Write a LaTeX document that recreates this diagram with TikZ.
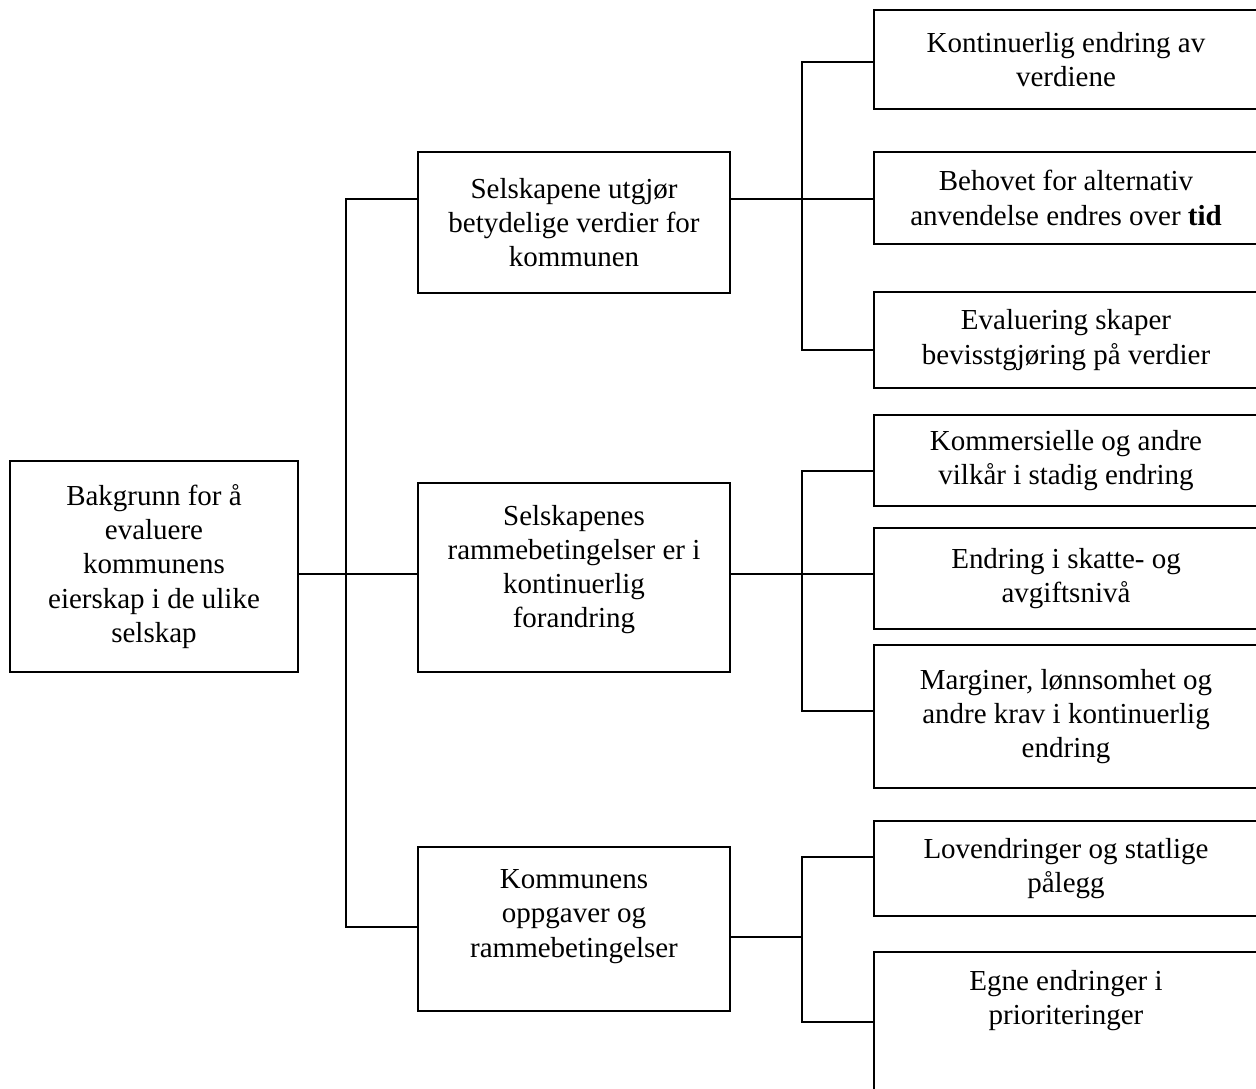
\documentclass[tikz,border=0pt]{standalone}
\usepackage{fontspec}
\setmainfont{Liberation Serif}
\newcommand{\liftup}[2]{\raisebox{#1}[\height][\depth]{%
  \begin{tabular}{@{}c@{}}#2\end{tabular}}}

\begin{document}
\begin{tikzpicture}[x=0.02cm,y=-0.02cm
  ,line width=1.1pt
  ,every node/.style={font=\fontsize{16.5}{19.5}\selectfont}]
  \tikzset{box/.style={draw,align=center,inner sep=2pt}
    ,midbox/.style={box,minimum width=6.24cm}
    ,rbox/.style={box,minimum width=7.68cm}}

  \useasboundingbox (0,0) rectangle (1256,1088);

  % left and middle column
  \node[box,minimum width=5.76cm,minimum height=4.22cm] (root) at (154,566.5)
    {Bakgrunn for å\\ evaluere\\ kommunens\\ eierskap i de ulike\\ selskap};
  \node[midbox,minimum height=2.82cm] (sel) at (574,222.5)
    {Selskapene utgjør\\ betydelige verdier for\\ kommunen};
  \node[midbox,minimum height=3.78cm] (ramme) at (574,577.5)
    {\liftup{4.5pt}{Selskapenes\\ rammebetingelser er i\\ kontinuerlig\\ forandring}};
  \node[midbox,minimum height=3.28cm] (komm) at (574,929)
    {\liftup{7.4pt}{Kommunens\\ oppgaver og\\ rammebetingelser}};

  % right column
  \node[rbox,minimum height=1.98cm] (r1) at (1066,59.5)
    {Kontinuerlig endring av\\ verdiene};
  \node[rbox,minimum height=1.84cm] (r2) at (1066,198)
    {Behovet for alternativ\\ anvendelse endres over \textbf{tid}};
  \node[rbox,minimum height=1.92cm] (r3) at (1066,340)
    {Evaluering skaper\\ bevisstgjøring på verdier};
  \node[rbox,minimum height=1.82cm] (r4) at (1066,460.5)
    {Kommersielle og andre\\ vilkår i stadig endring};
  \node[rbox,minimum height=2.02cm] (r5) at (1066,578.5)
    {Endring i skatte- og\\ avgiftsnivå};
  \node[rbox,minimum height=2.86cm] (r6) at (1066,716.5)
    {Marginer, lønnsomhet og\\ andre krav i kontinuerlig\\ endring};
  \node[rbox,minimum height=1.90cm] (r7) at (1066,868.5)
    {Lovendringer og statlige\\ pålegg};
  \node[rbox,minimum height=3.18cm,anchor=north] (r8) at (1066,951)
    {\parbox[t][2.44cm][t]{7cm}{\centering Egne endringer i\\ prioriteringer}};

  % junctions
  \coordinate (t0) at (346,574);
  \coordinate (t1) at (346,199);
  \coordinate (t2) at (346,927);
  \coordinate (s1) at (802,62);
  \coordinate (s2) at (802,199);
  \coordinate (s3) at (802,350);
  \coordinate (b1) at (802,471);
  \coordinate (b2) at (802,574);
  \coordinate (b3) at (802,711);
  \coordinate (c1) at (802,857);
  \coordinate (c2) at (802,937);
  \coordinate (c3) at (802,1022);

  \draw (sel.west |- t1) -- (t1) -- (t2) -- (komm.west |- t2);
  \draw (root.east |- t0) -- (ramme.west |- t0);

  \draw (r1.west |- s1) -- (s1) -- (s3) -- (r3.west |- s3);
  \draw (sel.east |- s2) -- (r2.west |- s2);
  \draw (r4.west |- b1) -- (b1) -- (b3) -- (r6.west |- b3);
  \draw (ramme.east |- b2) -- (r5.west |- b2);
  \draw (r7.west |- c1) -- (c1) -- (c3) -- (r8.west |- c3);
  \draw (komm.east |- c2) -- (c2);

\end{tikzpicture}
\end{document}
